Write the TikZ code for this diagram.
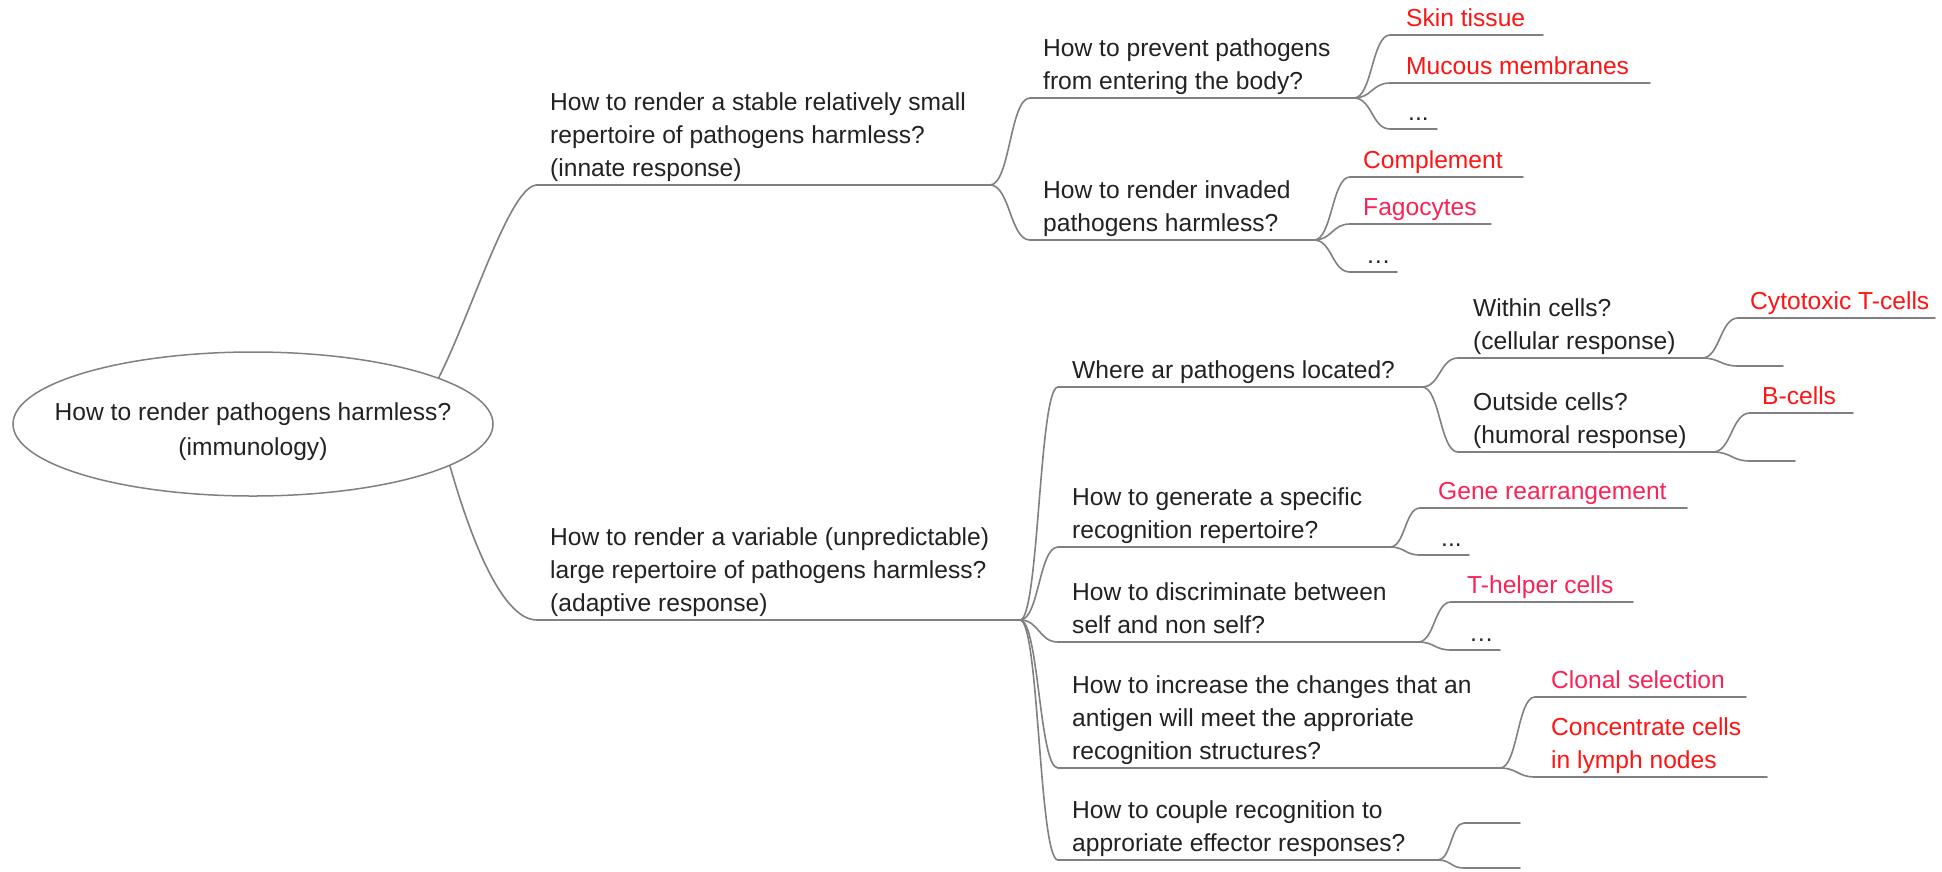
\documentclass[tikz,border=0pt]{standalone}
\usepackage{fontspec}
\setmainfont{Liberation Sans}
\usetikzlibrary{shapes.geometric,calc}

\definecolor{wire}{RGB}{128,128,128}
\definecolor{ink}{RGB}{34,34,34}
\definecolor{hotred}{RGB}{255,20,20}
\definecolor{pinkred}{RGB}{250,35,85}

\newcommand\mmfont{\fontsize{24.6}{33}\selectfont}
\newcommand\rootfont{\fontsize{24.6}{35}\selectfont}

% one branch: underline from (xs,y) to (xe,y), text sitting on it
% #1 extra style, #2 name, #3 xs, #4 xe, #5 y, #6 text x, #7 text
\newcommand\mmitem[7][]{%
  \coordinate (#2-s) at (#3,#5);
  \coordinate (#2-e) at (#4,#5);
  \draw[wireline] (#2-s) -- (#2-e);
  \node[itemtext,#1] (#2) at (#6,#5-8) {#7};}

% S-shaped link from the end of a parent's underline to the start of a child's
\newcommand\mmlink[2]{%
  \draw[wireline] let \p1=(#1-e), \p2=(#2-s) in
    (\p1) .. controls ({(\x1+\x2)/2},\y1) and ({(\x1+\x2)/2},\y2) .. (\p2);}

\tikzset{
  wireline/.style={draw=wire, line width=1.6pt, line cap=round},
  itemtext/.style={anchor=south west, inner sep=0pt, text depth=0pt,
    align=left, font=\mmfont, text=ink},
  redtext/.style={text=hotred},
  pinktext/.style={text=pinkred},
  rootshape/.style={draw=wire, line width=1.5pt, ellipse,
    minimum width=480pt, minimum height=144pt, inner sep=0pt},
  roottext/.style={anchor=south, inner sep=0pt, text depth=0pt,
    align=center, font=\rootfont, text=ink}
}

\begin{document}
\begin{tikzpicture}[x=1pt,y=-1pt]
\useasboundingbox (0,0) rectangle (1942,871);
\fill[white] (0,0) rectangle (1942,871);

% central question
\node[rootshape] (root) at (253,424) {};
\node[roottext] (roottitle) at (253,456) {How to render pathogens harmless?\\(immunology)};

% first level
\mmitem{innate}{537}{990}{185}{550}{How to render a stable relatively small\\repertoire of pathogens harmless?\\(innate response)}
\mmitem{adaptive}{537}{1020}{620}{550}{How to render a variable (unpredictable)\\large repertoire of pathogens harmless?\\(adaptive response)}

\draw[wireline] (root.14) .. controls +(33,-65) and +(-27,0) .. (innate-s);
\draw[wireline] (root.-12) .. controls +(18,63) and +(-37,0) .. (adaptive-s);

% innate response
\mmitem{prevent}{1030}{1354}{98}{1043}{How to prevent pathogens\\from entering the body?}
\mmitem{invaded}{1030}{1314}{240}{1043}{How to render invaded\\pathogens harmless?}
\mmitem[redtext]{skin}{1390}{1543}{35}{1406}{Skin tissue}
\mmitem[redtext]{mucous}{1390}{1650}{83}{1406}{Mucous membranes}
\mmitem{prevmore}{1390}{1437}{129}{1408}{...}
\mmitem[redtext]{complement}{1350}{1523}{177}{1363}{Complement}
\mmitem[pinktext]{fago}{1350}{1491}{224}{1363}{Fagocytes}
\mmitem{invmore}{1350}{1397}{272}{1366}{…}

% adaptive response
\mmitem{where}{1058}{1422}{387}{1072}{Where ar pathogens located?}
\mmitem{generate}{1058}{1390}{547}{1072}{How to generate a specific\\recognition repertoire?}
\mmitem{discrim}{1058}{1418}{642}{1072}{How to discriminate between\\self and non self?}
\mmitem{increase}{1058}{1500}{768}{1072}{How to increase the changes that an\\antigen will meet the approriate\\recognition structures?}
\mmitem{couple}{1058}{1438}{860}{1072}{How to couple recognition to\\approriate effector responses?}

\mmitem{within}{1458}{1702}{358}{1473}{Within cells?\\(cellular response)}
\mmitem{outside}{1458}{1713}{452}{1473}{Outside cells?\\(humoral response)}
\mmitem[redtext]{cyto}{1738}{1935}{318}{1750}{Cytotoxic T-cells}
\mmitem{withinmore}{1738}{1783}{366}{1750}{}
\mmitem[redtext]{bcells}{1750}{1853}{413}{1762}{B-cells}
\mmitem{outsidemore}{1750}{1795}{461}{1762}{}

\mmitem[pinktext]{gene}{1420}{1687}{508}{1438}{Gene rearrangement}
\mmitem{genemore}{1420}{1469}{555}{1441}{...}
\mmitem[pinktext]{thelper}{1451}{1633}{602}{1467}{T-helper cells}
\mmitem{discmore}{1451}{1500}{650}{1469}{…}
\mmitem[pinktext]{clonal}{1535}{1746}{697}{1551}{Clonal selection}
\mmitem[redtext]{lymph}{1535}{1767}{777}{1551}{Concentrate cells\\in lymph nodes}
\mmitem{coupleA}{1464}{1520}{823}{1478}{}
\mmitem{coupleB}{1464}{1520}{868}{1478}{}

% links
\mmlink{innate}{prevent}
\mmlink{innate}{invaded}
\mmlink{prevent}{skin}
\mmlink{prevent}{mucous}
\mmlink{prevent}{prevmore}
\mmlink{invaded}{complement}
\mmlink{invaded}{fago}
\mmlink{invaded}{invmore}
\mmlink{adaptive}{where}
\mmlink{adaptive}{generate}
\mmlink{adaptive}{discrim}
\mmlink{adaptive}{increase}
\mmlink{adaptive}{couple}
\mmlink{where}{within}
\mmlink{where}{outside}
\mmlink{within}{cyto}
\mmlink{within}{withinmore}
\mmlink{outside}{bcells}
\mmlink{outside}{outsidemore}
\mmlink{generate}{gene}
\mmlink{generate}{genemore}
\mmlink{discrim}{thelper}
\mmlink{discrim}{discmore}
\mmlink{increase}{clonal}
\mmlink{increase}{lymph}
\mmlink{couple}{coupleA}
\mmlink{couple}{coupleB}
\end{tikzpicture}
\end{document}
